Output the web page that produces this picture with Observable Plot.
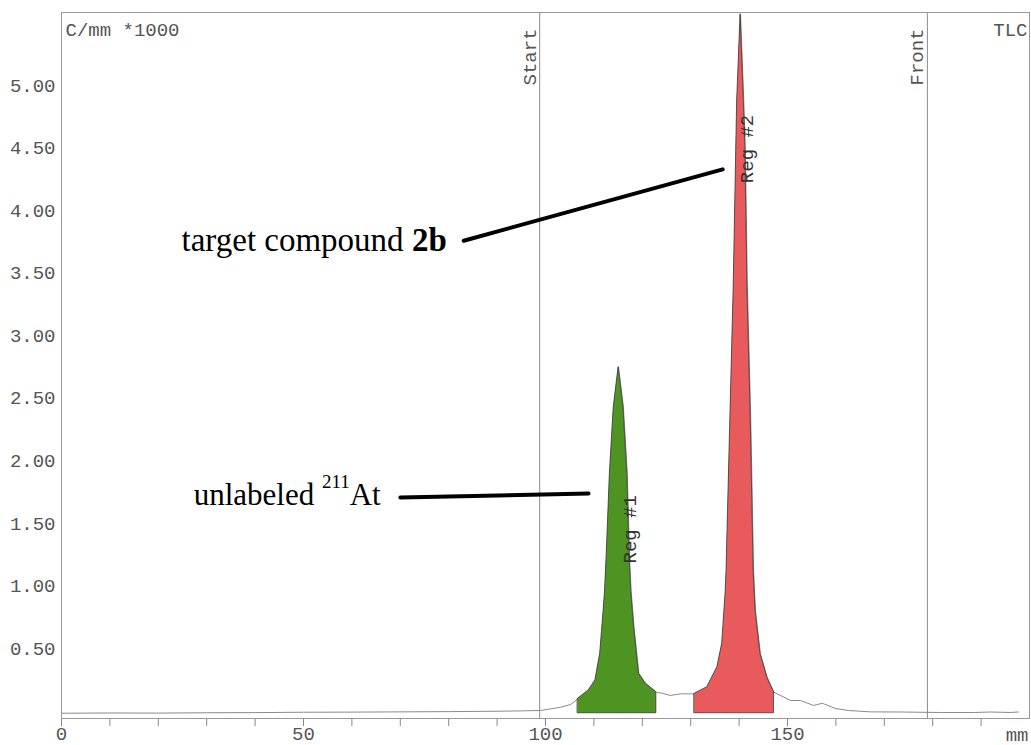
<!DOCTYPE html>
<html><head><meta charset="utf-8">
<script src="https://cdn.jsdelivr.net/npm/d3@7"></script>
<script src="https://cdn.jsdelivr.net/npm/@observablehq/plot@0.6"></script>
<style>body{margin:0;background:#fff}#chart svg{display:block}</style>
</head><body><div id="chart"></div>
<script>
// radio-TLC scan: position (mm) vs counts per mm (x1000)
const positionMm = [0,10,20,30,40,50,60,70,80,90,95,99,103.1,105.2,106.7,108.9,110.3,111.3,112.0,112.3,112.7,113.3,114.1,115.1,116.1,116.9,117.4,117.7,118.3,119.3,120.7,122.9,124.1,125.8,127.9,129.9,130.8,133.4,135.5,136.5,137.2,137.4,138.2,138.9,139.4,139.6,140.3,140.97,141.3,141.7,142.4,143.0,143.4,144.4,145.8,147.2,149.3,150.6,152.7,155.4,157.2,159.9,162.6,167.1,173.3,181.6,188.8,191.9,196.1,197.7];
const activity = [-0.017,-0.015,-0.016,-0.013,-0.012,-0.009,-0.008,-0.006,-0.004,-0.001,0.002,0.005,0.031,0.053,0.098,0.165,0.245,0.46,0.80,0.96,1.30,1.90,2.43,2.75,2.43,1.90,1.20,0.96,0.67,0.30,0.22,0.151,0.143,0.125,0.138,0.138,0.138,0.191,0.351,0.538,0.94,1.12,2.35,3.42,4.48,4.88,5.57,4.88,4.48,3.42,2.35,1.12,0.80,0.46,0.27,0.151,0.111,0.085,0.085,0.045,0.063,0.021,0.005,-0.006,-0.007,-0.011,-0.011,-0.007,-0.011,-0.007];

const regionNames = ["Reg #1", "Reg #2"];
const regionStart = [106.7, 130.8];
const regionEnd = [122.9, 147.2];
const regionColors = ["#4f9422", "#e85a5b"];
const regionLabelY = [1.18, 4.22];
const regionBase = -0.017;

const markerNames = ["Start", "Front"];
const markerMm = [98.8, 178.9];

const yTicks = [0.5, 1, 1.5, 2, 2.5, 3, 3.5, 4, 4.5, 5];
const xTicks = [0,10,20,30,40,50,60,70,80,90,100,110,120,130,140,150,160,170,180,190];
const xTickLabels = [0, 50, 100, 150];

const annotationTexts = ["target compound 2b", "unlabeled 211At"];
const annotationX = [24.8, 27.3];
const annotationY = [3.674, 1.644];
const annotationSizes = [33, 31];
const leaderX1 = [83.1, 70.0];
const leaderY1 = [3.76, 1.707];
const leaderX2 = [136.6, 108.9];
const leaderY2 = [4.33, 1.739];

const trace = positionMm.map((x, i) => ({x, y: activity[i]}));
const regions = regionNames.map((name, i) => ({name, lo: regionStart[i], hi: regionEnd[i], color: regionColors[i], labelY: regionLabelY[i]}));
const annotations = annotationTexts.map((t, i) => ({t, x: annotationX[i], y: annotationY[i], size: annotationSizes[i]}));
const leaders = leaderX1.map((x1, i) => ({x1, y1: leaderY1[i], x2: leaderX2[i], y2: leaderY2[i]}));
const markers = markerNames.map((name, i) => ({name, x: markerMm[i]}));

const mono = "Liberation Mono";
const serif = "Liberation Serif";

const marks = [
  Plot.ruleX(markers, {x: "x", stroke: "#8a8a8a", strokeWidth: 1}),
  Plot.text(markers, {x: "x", text: "name", frameAnchor: "top", rotate: -90, textAnchor: "end", lineAnchor: "bottom", dx: -4, dy: 16, fontFamily: mono, fontSize: 19, fill: "#555"}),
  Plot.line(trace, {x: "x", y: "y", stroke: "#8a8a8a", strokeWidth: 1})
];
for (const r of regions) {
  const pts = trace.filter(d => d.x >= r.lo && d.x <= r.hi);
  marks.push(Plot.areaY(pts, {x: "x", y1: () => regionBase, y2: "y", fill: r.color, stroke: "#3a3a3a", strokeWidth: 0.8, curve: "linear"}));
}
marks.push(
  Plot.text(regions, {x: d => (d.lo + d.hi) / 2, y: "labelY", text: "name", rotate: -90, textAnchor: "start", lineAnchor: "bottom", dx: 18.5, fontFamily: mono, fontSize: 19, fill: "#333"}),
  Plot.link(leaders, {x1: "x1", y1: "y1", x2: "x2", y2: "y2", stroke: "#000", strokeWidth: 4, strokeLinecap: "round"}),
  Plot.text(annotations, {x: "x", y: "y", text: "t", textAnchor: "start", lineAnchor: "bottom", fontFamily: serif, fontSize: d => d.size, fill: "#000"}),
  Plot.text(["C/mm *1000"], {frameAnchor: "top-left", textAnchor: "start", lineAnchor: "bottom", dx: 4, dy: 23, fontFamily: mono, fontSize: 19, fill: "#555"}),
  Plot.text(["TLC"], {frameAnchor: "top-right", textAnchor: "end", lineAnchor: "bottom", dx: -2, dy: 23, fontFamily: mono, fontSize: 19, fill: "#555"}),
  Plot.text(["mm"], {frameAnchor: "bottom-right", textAnchor: "end", lineAnchor: "bottom", dx: -1, dy: 22, fontFamily: mono, fontSize: 19, fill: "#555"}),
  Plot.axisX({ticks: xTicks, tickSize: 8, tickPadding: 0, tickFormat: d => xTickLabels.includes(d) ? String(d) : "", stroke: "#888", fill: "#555", label: null, fontFamily: mono, fontSize: 19}),
  Plot.axisY({ticks: yTicks, tickSize: 0, tickPadding: 6, tickFormat: d3.format(".2f"), fill: "#555", label: null, fontFamily: mono, fontSize: 19}),
  Plot.frame({stroke: "#999", strokeWidth: 1})
);

const chart = Plot.plot({
  width: 1031,
  height: 745,
  marginLeft: 61,
  marginTop: 12,
  marginRight: 2,
  marginBottom: 27,
  x: {domain: [0, 200]},
  y: {domain: [-0.059, 5.584]},
  style: {fontFamily: mono, fontSize: "19px", color: "#555", background: "#fff"},
  marks
});

// rich text: bold compound id and superscript mass number
d3.select(chart).selectAll("text").each(function() {
  const t = this.textContent;
  const sel = d3.select(this);
  if (t === "target compound 2b") {
    sel.text(null);
    sel.append("tspan").text("target compound ");
    sel.append("tspan").attr("font-weight", "bold").text("2b");
  } else if (t === "unlabeled 211At") {
    sel.text(null);
    sel.append("tspan").text("unlabeled ");
    sel.append("tspan").attr("font-size", 19).attr("dy", -17).text("211");
    sel.append("tspan").attr("dy", 17).text("At");
  }
});

document.getElementById("chart").appendChild(chart);
</script>
</body></html>
